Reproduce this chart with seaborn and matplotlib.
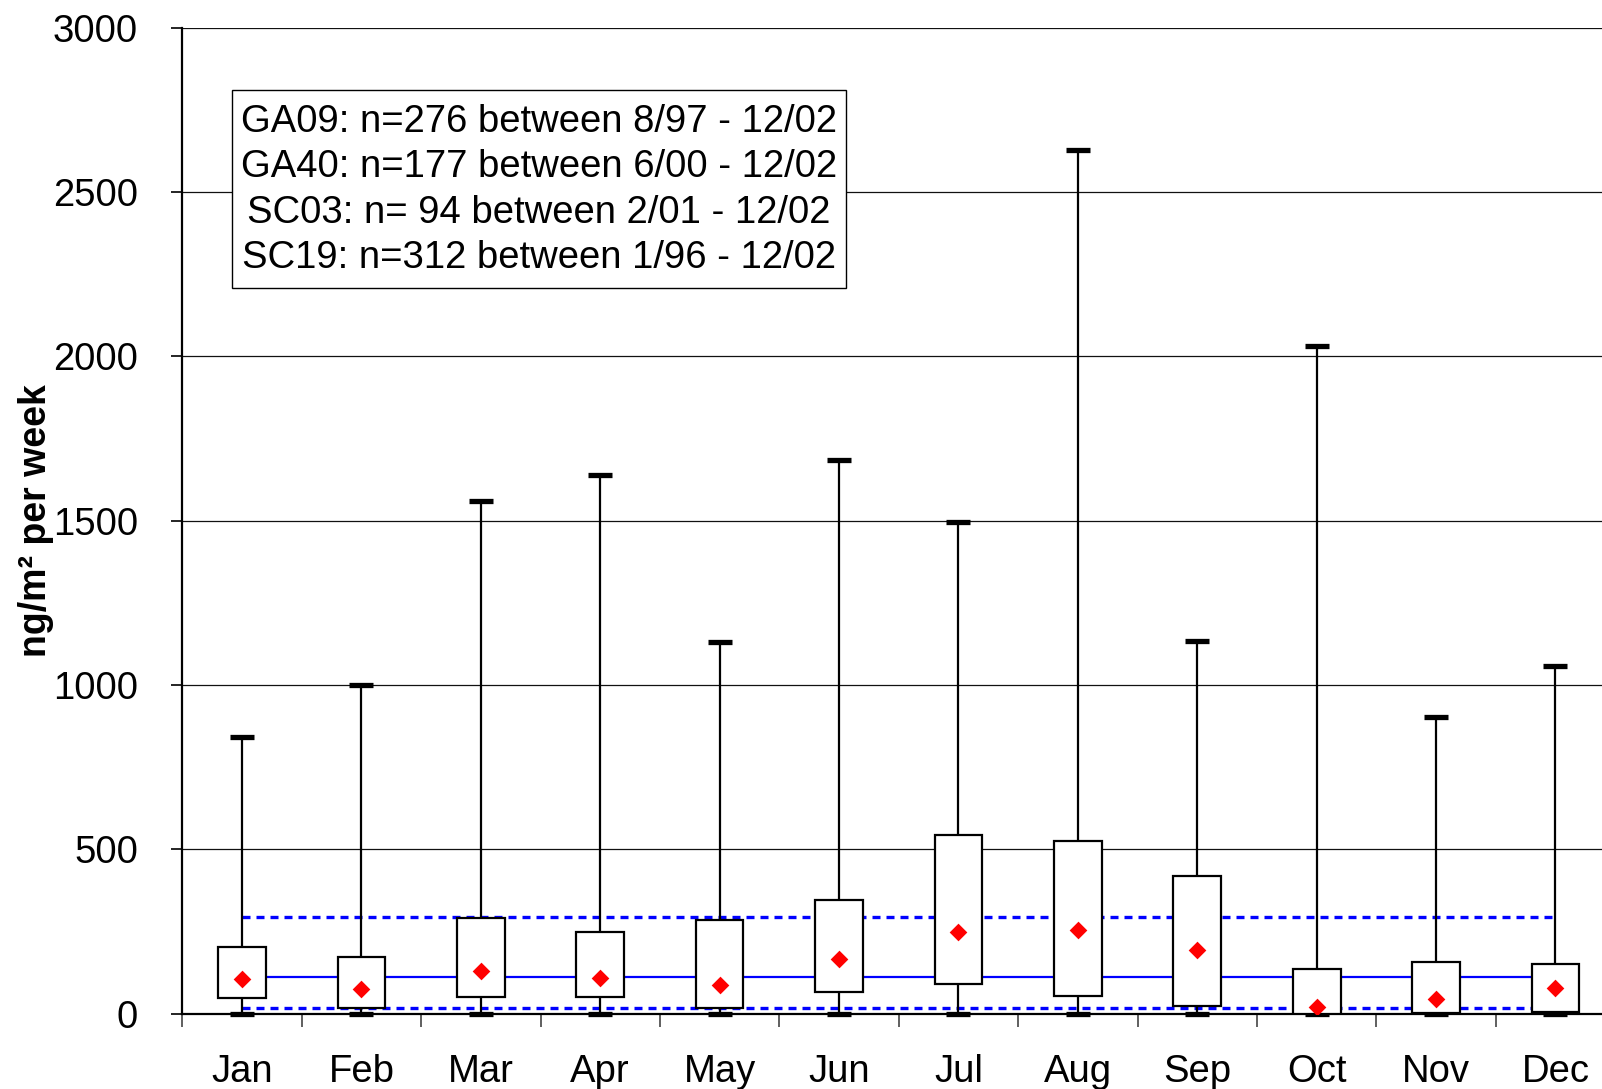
import numpy as np
import pandas as pd
import matplotlib
matplotlib.use("Agg")
import matplotlib.pyplot as plt
from matplotlib.patches import Rectangle
import seaborn as sns

months = ["Jan", "Feb", "Mar", "Apr", "May", "Jun", "Jul", "Aug", "Sep", "Oct", "Nov", "Dec"]
v_min = [0, 0, 0, 0, 0, 0, 0, 0, 0, 0, 0, 0]
v_q1 = [46, 16, 50, 50, 18, 64, 89, 53, 24, 0, 2, 5]
v_med = [104, 74, 130, 109, 87, 167, 247, 253, 194, 19, 44, 77]
v_q3 = [201, 173, 290, 248, 285, 345, 544, 525, 418, 135, 158, 150]
v_max = [842, 1000, 1558, 1638, 1129, 1684, 1496, 2627, 1135, 2032, 901, 1057]
ref_mid = 112
ref_hi = 293
ref_lo = 16
y_ticks = [0, 500, 1000, 1500, 2000, 2500, 3000]
note_lines = [
    "GA09: n=276 between 8/97 - 12/02",
    "GA40: n=177 between 6/00 - 12/02",
    "SC03: n= 94 between 2/01 - 12/02",
    "SC19: n=312 between 1/96 - 12/02",
]
y_label = "ng/m² per week"

sns.set_style("white")
plt.rcParams["font.family"] = ["Liberation Sans", "DejaVu Sans"]
plt.rcParams["text.color"] = "black"
plt.rcParams["xtick.color"] = "black"
plt.rcParams["ytick.color"] = "black"

rows = []
for i, m in enumerate(months):
    for v in (v_min[i], v_q1[i], v_med[i], v_q3[i], v_max[i]):
        rows.append({"month": m, "value": v})
df = pd.DataFrame(rows)
df_med = pd.DataFrame({"month": months, "value": v_med})

W, H = 1602, 1089
ax_l, ax_r, ax_t, ax_b = 182.3, 1602, 27.6, 1013.5
fig = plt.figure(figsize=(W / 100, H / 100), dpi=100)
ax = fig.add_axes([ax_l / W, 1 - ax_b / H, (ax_r - ax_l) / W, (ax_b - ax_t) / H])

# reference lines
ax.plot([0, 11], [ref_mid, ref_mid], color="#0000FF", lw=1.6, zorder=1.5)
ax.plot([0, 11], [ref_hi, ref_hi], color="#0000FF", lw=2.4, ls=(0, (2.4, 1.8)), zorder=1.5)
ax.plot([0, 11], [ref_lo, ref_lo], color="#0000FF", lw=2.4, ls=(0, (2.4, 1.8)), zorder=1.5)

sns.boxplot(data=df, x="month", y="value", order=months, whis=(0, 100), width=0.4,
            color="white", linecolor="black", linewidth=1.6, saturation=1,
            showfliers=False, medianprops={"visible": False},
            capprops={"linewidth": 3.8, "solid_capstyle": "butt"}, ax=ax)
sns.stripplot(data=df_med, x="month", y="value", order=months, jitter=False,
              marker="D", color="#FF0000", size=9, linewidth=0, zorder=6, ax=ax)

for ln in ax.lines:
    ln.set_clip_on(False)
for p in ax.patches:
    p.set_zorder(3)

ax.set_yticks(y_ticks)
ax.set_yticklabels([str(t) for t in y_ticks], fontsize=27.5, color="black")
ax.set_xticks(range(12))
ax.set_xticklabels(months, fontsize=27.5, color="black")
ax.set_xticks(np.arange(-0.5, 12, 1), minor=True)
ax.set_ylim(0, 3000)
ax.set_xlim(-0.5, 11.39)
ax.tick_params(axis="x", which="major", length=0, pad=29)
ax.tick_params(axis="x", which="minor", length=9, width=1.2, color="#444444", direction="out", bottom=True)
ax.tick_params(axis="y", which="major", length=8, width=1.2, color="black", direction="out", left=True, pad=24)
ax.set_xlabel("")
ax.set_ylabel("")
ax.yaxis.grid(True, color="#111111", lw=0.9)
ax.xaxis.grid(False)
ax.set_axisbelow(True)
for s in ("top", "right"):
    ax.spines[s].set_visible(False)
ax.spines["left"].set_color("black")
ax.spines["left"].set_linewidth(1.6)
ax.spines["bottom"].set_color("black")
ax.spines["bottom"].set_linewidth(1.6)

ax.text(-0.1028, 0.5, y_label, transform=ax.transAxes, rotation=90,
        ha="center", va="center", fontsize=27, fontweight="bold", color="black")

# note box
bx0, bx1, by0, by1 = 232, 846, 90, 288
fx = lambda px: (px - ax_l) / (ax_r - ax_l)
fy = lambda py: (ax_b - py) / (ax_b - ax_t)
ax.add_patch(Rectangle((fx(bx0), fy(by1)), fx(bx1) - fx(bx0), fy(by0) - fy(by1),
                       transform=ax.transAxes, facecolor="white", edgecolor="black",
                       linewidth=1.0, zorder=9, clip_on=False))
ax.text(fx((bx0 + bx1) / 2), fy(190), "\n".join(note_lines), transform=ax.transAxes,
        ha="center", va="center", multialignment="center", fontsize=27.5,
        linespacing=1.33, zorder=10, color="black")

fig.savefig("out.png", dpi=100)
